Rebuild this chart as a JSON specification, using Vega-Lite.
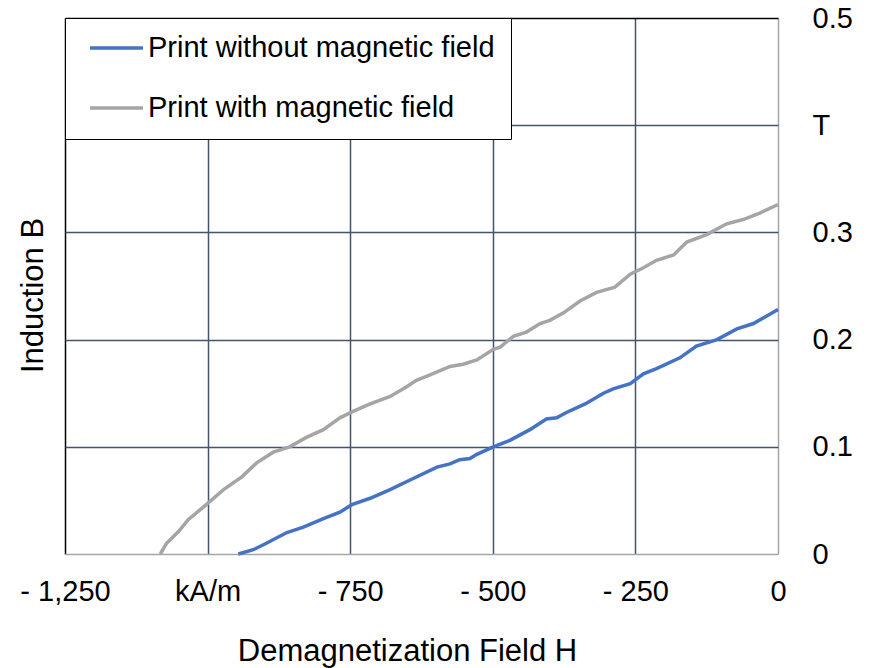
{
  "$schema": "https://vega.github.io/schema/vega-lite/v6.json",
  "width": 713,
  "height": 536,
  "autosize": {"type": "none"},
  "padding": {"left": 65, "top": 18, "right": 92, "bottom": 114},
  "background": "white",
  "config": {
    "view": {"stroke": null},
    "font": "Liberation Sans"
  },
  "data": {
    "values": [
      {"series": "Print without magnetic field", "H": -946, "B": 0},
      {"series": "Print without magnetic field", "H": -920, "B": 0.004},
      {"series": "Print without magnetic field", "H": -897, "B": 0.010},
      {"series": "Print without magnetic field", "H": -861, "B": 0.020},
      {"series": "Print without magnetic field", "H": -832, "B": 0.025},
      {"series": "Print without magnetic field", "H": -797, "B": 0.033},
      {"series": "Print without magnetic field", "H": -768, "B": 0.039},
      {"series": "Print without magnetic field", "H": -747, "B": 0.046},
      {"series": "Print without magnetic field", "H": -715, "B": 0.052},
      {"series": "Print without magnetic field", "H": -680, "B": 0.060},
      {"series": "Print without magnetic field", "H": -645, "B": 0.069},
      {"series": "Print without magnetic field", "H": -598, "B": 0.081},
      {"series": "Print without magnetic field", "H": -575, "B": 0.084},
      {"series": "Print without magnetic field", "H": -558, "B": 0.088},
      {"series": "Print without magnetic field", "H": -540, "B": 0.089},
      {"series": "Print without magnetic field", "H": -528, "B": 0.093},
      {"series": "Print without magnetic field", "H": -499, "B": 0.100},
      {"series": "Print without magnetic field", "H": -470, "B": 0.106},
      {"series": "Print without magnetic field", "H": -435, "B": 0.116},
      {"series": "Print without magnetic field", "H": -406, "B": 0.126},
      {"series": "Print without magnetic field", "H": -388, "B": 0.127},
      {"series": "Print without magnetic field", "H": -371, "B": 0.132},
      {"series": "Print without magnetic field", "H": -338, "B": 0.140},
      {"series": "Print without magnetic field", "H": -306, "B": 0.150},
      {"series": "Print without magnetic field", "H": -289, "B": 0.154},
      {"series": "Print without magnetic field", "H": -259, "B": 0.159},
      {"series": "Print without magnetic field", "H": -236, "B": 0.168},
      {"series": "Print without magnetic field", "H": -213, "B": 0.173},
      {"series": "Print without magnetic field", "H": -172, "B": 0.183},
      {"series": "Print without magnetic field", "H": -143, "B": 0.194},
      {"series": "Print without magnetic field", "H": -107, "B": 0.200},
      {"series": "Print without magnetic field", "H": -72, "B": 0.210},
      {"series": "Print without magnetic field", "H": -43, "B": 0.215},
      {"series": "Print without magnetic field", "H": 0, "B": 0.228},
      {"series": "Print with magnetic field", "H": -1083, "B": 0},
      {"series": "Print with magnetic field", "H": -1072, "B": 0.010},
      {"series": "Print with magnetic field", "H": -1051, "B": 0.021},
      {"series": "Print with magnetic field", "H": -1034, "B": 0.032},
      {"series": "Print with magnetic field", "H": -1007, "B": 0.044},
      {"series": "Print with magnetic field", "H": -972, "B": 0.060},
      {"series": "Print with magnetic field", "H": -940, "B": 0.072},
      {"series": "Print with magnetic field", "H": -914, "B": 0.085},
      {"series": "Print with magnetic field", "H": -885, "B": 0.095},
      {"series": "Print with magnetic field", "H": -856, "B": 0.100},
      {"series": "Print with magnetic field", "H": -826, "B": 0.109},
      {"series": "Print with magnetic field", "H": -797, "B": 0.116},
      {"series": "Print with magnetic field", "H": -768, "B": 0.127},
      {"series": "Print with magnetic field", "H": -745, "B": 0.133},
      {"series": "Print with magnetic field", "H": -715, "B": 0.140},
      {"series": "Print with magnetic field", "H": -680, "B": 0.147},
      {"series": "Print with magnetic field", "H": -651, "B": 0.156},
      {"series": "Print with magnetic field", "H": -634, "B": 0.162},
      {"series": "Print with magnetic field", "H": -610, "B": 0.167},
      {"series": "Print with magnetic field", "H": -575, "B": 0.175},
      {"series": "Print with magnetic field", "H": -552, "B": 0.177},
      {"series": "Print with magnetic field", "H": -528, "B": 0.181},
      {"series": "Print with magnetic field", "H": -499, "B": 0.191},
      {"series": "Print with magnetic field", "H": -487, "B": 0.193},
      {"series": "Print with magnetic field", "H": -464, "B": 0.203},
      {"series": "Print with magnetic field", "H": -441, "B": 0.207},
      {"series": "Print with magnetic field", "H": -417, "B": 0.215},
      {"series": "Print with magnetic field", "H": -400, "B": 0.218},
      {"series": "Print with magnetic field", "H": -376, "B": 0.225},
      {"series": "Print with magnetic field", "H": -347, "B": 0.236},
      {"series": "Print with magnetic field", "H": -318, "B": 0.244},
      {"series": "Print with magnetic field", "H": -286, "B": 0.249},
      {"series": "Print with magnetic field", "H": -259, "B": 0.261},
      {"series": "Print with magnetic field", "H": -236, "B": 0.267},
      {"series": "Print with magnetic field", "H": -213, "B": 0.274},
      {"series": "Print with magnetic field", "H": -183, "B": 0.279},
      {"series": "Print with magnetic field", "H": -160, "B": 0.291},
      {"series": "Print with magnetic field", "H": -125, "B": 0.298},
      {"series": "Print with magnetic field", "H": -90, "B": 0.308},
      {"series": "Print with magnetic field", "H": -61, "B": 0.312},
      {"series": "Print with magnetic field", "H": -32, "B": 0.318},
      {"series": "Print with magnetic field", "H": 0, "B": 0.326}
    ]
  },
  "mark": {"type": "line", "strokeWidth": 3.5, "interpolate": "linear"},
  "encoding": {
    "x": {
      "field": "H",
      "type": "quantitative",
      "scale": {"domain": [-1250, 0], "nice": false, "zero": false},
      "axis": {
        "values": [-1250, -1000, -750, -500, -250, 0],
        "labelExpr": "datum.value == 0 ? '0' : (datum.value == -1000 ? 'kA/m' : '- ' + format(-datum.value, ','))",
        "labelFlush": false,
        "labelOverlap": false,
        "labelFontSize": 29,
        "labelColor": "black",
        "labelBaseline": "alphabetic",
        "labelPadding": 46,
        "ticks": false,
        "tickSize": 0,
        "domain": false,
        "grid": true,
        "gridWidth": 1.5,
        "gridColor": {"condition": [{"test": "datum.value == -1250", "value": "black"}, {"test": "datum.value == 0", "value": "#A6A6A6"}], "value": "#44546A"},
        "gridOpacity": 1,
        "title": "Demagnetization Field H",
        "titleFontSize": 31,
        "titleFontWeight": "normal",
        "titleColor": "black",
        "titleX": 342,
        "titleY": 106,
        "titleBaseline": "alphabetic",
        "titleAnchor": "middle"
      }
    },
    "y": {
      "field": "B",
      "type": "quantitative",
      "scale": {"domain": [0, 0.5], "nice": false},
      "axis": {
        "orient": "right",
        "values": [0, 0.1, 0.2, 0.3, 0.4, 0.5],
        "format": ".1~f",
        "labelExpr": "datum.value == 0.4 ? 'T' : datum.label",
        "labelFlush": false,
        "labelOverlap": false,
        "labelFontSize": 29,
        "labelColor": "black",
        "labelAlign": "left",
        "labelBaseline": "middle",
        "labelPadding": 34,
        "ticks": false,
        "tickSize": 0,
        "domain": false,
        "grid": true,
        "gridWidth": 1.5,
        "gridColor": {"condition": [{"test": "datum.value == 0.5", "value": "black"}, {"test": "datum.value == 0", "value": "#A6A6A6"}], "value": "#44546A"},
        "gridOpacity": 1,
        "title": "Induction B",
        "titleFontSize": 31,
        "titleFontWeight": "normal",
        "titleColor": "black",
        "titleAngle": 270,
        "titleX": -736,
        "titleY": 277,
        "titleAlign": "center",
        "titleBaseline": "alphabetic"
      }
    },
    "color": {
      "field": "series",
      "type": "nominal",
      "scale": {
        "domain": ["Print without magnetic field", "Print with magnetic field"],
        "range": ["#4472C4", "#A5A5A5"]
      },
      "legend": {
        "orient": "top-left",
        "offset": 0,
        "title": null,
        "fillColor": "white",
        "strokeColor": "black",
        "padding": 15.5,
        "symbolType": "M-2.255,0H2.255",
        "symbolSize": 552,
        "symbolStrokeWidth": 3.5,
        "symbolOffset": 21.5,
        "labelOffset": 17,
        "rowPadding": 30,
        "labelFontSize": 29,
        "labelColor": "black",
        "labelLimit": 600
      }
    }
  }
}
